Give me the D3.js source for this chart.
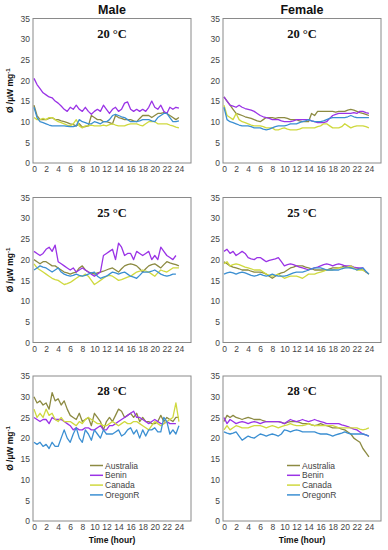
<!DOCTYPE html>
<html><head><meta charset="utf-8">
<script src="https://cdn.jsdelivr.net/npm/d3@7/dist/d3.min.js"></script>
<style>body{margin:0;background:#fff}svg{display:block}</style>
</head><body><svg id="c" width="388" height="550"></svg>
<script>
const hours = [0,0.5,1,1.5,2,2.5,3,3.5,4,4.5,5,5.5,6,6.5,7,7.5,8,8.5,9,9.5,10,10.5,11,11.5,12,12.5,13,13.5,14,14.5,15,15.5,16,16.5,17,17.5,18,18.5,19,19.5,20,20.5,21,21.5,22,22.5,23,23.5,24];
const populations = ["Australia","Benin","Canada","OregonR"];
const sexes = ["Male","Female"];
const temperatures = ["20 °C","25 °C","28 °C"];
const yTicks = [0,5,10,15,20,25,30,35];
const xTicks = [0,2,4,6,8,10,12,14,16,18,20,22,24];

// Male 20 °C
const m20_australia = [14,11.5,10.5,10.5,10.5,10.8,11,10.5,10.5,10.2,10,9.8,9.5,9.3,9,9.5,8.7,8.8,9,11.5,11,10.5,10.5,10,10,9.8,9.5,11.5,11,10.8,10.5,10.5,10.5,10.2,10,10.8,11.5,11.5,11.5,11,11.5,12,12,12.2,12,11.5,11,10.5,11];
const m20_benin = [20.5,19,18,17,16.5,16,15.8,15,14.5,13.8,13,12.5,13.5,13,14,13,12.5,13.5,12.5,11.8,12.5,13,12.5,14,13,12,13,13.5,12.5,13,14.5,14.8,13,12.5,13,12.5,13,12.5,13.5,15,13.5,13,14,12.5,12,13.5,13,13.5,13.3];
const m20_canada = [11,10.5,10.5,10.8,10.5,11,11,10.5,10,9.8,9.5,9.2,9,9.5,10.5,9,8.5,9,9,9.2,9,9,9,9.2,9,9.3,9.5,9.2,9,9,9,9.3,9.5,9.5,9.5,9.2,9,9.5,10,10,10,9.5,9.5,9.5,9.5,9.2,9,8.7,8.5];
const m20_oregonr = [13.5,11,10,9.8,9.5,9.2,9,9,9,9,9,8.9,8.8,8.8,9,10.5,10,9.8,9.5,9.5,10,9.8,9.5,10,10,10.5,11.5,11.8,11.5,11.2,11,10.5,10,10,10,10.2,10.5,10.5,10.5,10.2,10,11,11.5,12,12,11,10,10,10.2];
// Female 20 °C
const f20_australia = [16,15,14,13,12,11.8,11.5,11.2,11,10.8,10.5,10.2,10,10.5,11,11,11,10.8,11,11,11,10.8,10.5,10.5,10.5,10.2,10,10,10,12,11.5,12.5,12.5,12.5,12.5,12.5,12.5,12.3,12.5,12.5,12.5,12.8,13,12.8,12.5,12.2,12,11.8,11.5];
const f20_benin = [16,15,14,13.8,13.5,14,13.5,13.2,13,12.8,12.5,12,11.5,11.2,11,10.8,10.5,10.5,10.5,10.2,10,10,10,10.2,10.5,10.5,10.5,10.5,10.5,10.2,10,9.8,9.8,9.8,10,10.8,11.5,11.8,12,12,12,12,12,12.2,12,12.5,12.5,12.2,12];
const f20_canada = [14,11.5,11,10.5,12,10.5,10,9.8,9.5,9.2,9,9,9,8.8,8.5,8.5,8.5,8,8,8.3,8.5,8.2,8,8,8,8.2,8.5,8.5,8.5,8.5,8.5,8.8,9,9.5,9.5,9,8.5,8.5,8.5,8.8,9.5,9,8.5,8.8,9,9,9,8.8,8.5];
const f20_oregonr = [13.5,10.5,10,9.8,9.5,9.2,9,9,9,8.8,8.5,8.5,8.5,8.2,8,8.2,8.5,8.8,9,9,9,9.2,9.5,9.5,9.5,9.8,10,10.2,10.5,10.2,10,10,10,10.2,10.5,10.8,11,11,11,11,11,11.2,11.5,11.2,11,11,11,11,11];
// Male 25 °C
const m25_australia = [20,19.5,19,19.5,19.5,19,18.5,18.5,18,17.5,17,16.8,16.5,16.8,17,18,18.5,17.5,17,16.8,16.5,16.8,17,17.2,17.5,17.8,18,17.5,17,17.8,18.5,18.8,19,18.8,18.5,17.8,17,17.8,18.5,18.8,19,18.5,18,18.8,19.5,19.2,19,18.8,18.5];
const m25_benin = [22,21.5,21,21.5,22.5,23,22,23.5,19.5,19,18.5,18,17.5,18,17,17.5,18,17.5,17,16.5,16,16.5,17,21,21.5,22,22.5,20,24,23,21,21.5,21.5,20,22,21.5,21,21.5,22,20,21,20,23,22,21,20.5,20,21];
const m25_canada = [19,18,17.5,17,16.5,16,15.5,15.2,15,14.5,14,14.2,14.5,15,15.5,16,16,16.5,16,15,14,14.5,15,15.5,16,16.2,16,15.5,15,15.2,15.5,15.8,16,16.5,17,17.2,17.5,17.2,17,16.5,16,16.8,17.5,17.2,17,17.5,18,18,18];
const m25_oregonr = [17.5,18,18.5,18.2,18,17.5,17,17.5,18,17,16.5,16.2,16,16.2,16.5,16.2,16,16.2,16.5,16.8,17,16,15.5,15.8,16,16.5,17,16.8,16.5,16.8,17,16.5,16,15.8,15.5,16.2,17,17,17,17.2,17.5,17,16.5,16.2,16,16.2,16.5,16.5];
// Female 25 °C
const f25_australia = [19.5,19,18.5,18.2,18,17.8,17.5,17.5,17.5,17.2,17,17,17,16.8,16.5,16,15.5,16,16.5,16.8,17,17.5,18,18.2,18.5,18.5,18.5,18.2,18,17.8,17.5,17.5,17.5,17.5,17.5,17.8,18,18,18,18.2,18.5,18.2,18,18,18,17.8,17.5,17,16.5];
const f25_benin = [22,22.5,21.5,22,21,21.5,22,21.5,20.5,20.2,20,20.5,20.5,20,19.5,19.8,20,20.2,20.5,19.5,18.5,18.8,19,18.8,18.5,18.2,18,17.8,17.5,17.8,18,18.2,18.5,18.8,19,18.8,18.5,18.8,19,18.8,18.5,18.5,18.5,18.2,18,18,18,17];
const f25_canada = [19,19.5,18.5,18.8,19,18.8,18.5,18.2,18,17.8,17.5,17.5,17.5,17,16.5,16.2,16,16.2,16.5,16,15.5,15.8,16,16,16,15.8,15.5,16,16.5,16.5,16.5,16.8,17,17.2,17.5,17.5,17.5,17.8,18,18,18,18.2,18.5,18,17.5,17.5,17.5,17];
const f25_oregonr = [16.5,16.8,17,16.8,16.5,16.8,17,16.8,16.5,16.2,16,16.2,16.5,16.2,16,16.2,16.5,16.2,16,16,16,16.2,16.5,16.8,17,17,17,17.2,17.5,17.8,18,18,18,17.8,17.5,17.5,17.5,17.5,17.5,17.8,18,18,18,17.8,17.5,17.8,18,17.2,16.5];
// Male 28 °C
const m28_australia = [30,28.5,29,28,28.5,27,31,29,29.5,28,29,27,25.5,25,24.5,26,24,24.5,25,23,26,25,24,22,24,25,24,25.5,27,26.5,25,25.5,26,25,26,24,25,24,24,23.5,23.5,24,25.5,24,25,24.5,24,25,25];
const m28_benin = [25,24.5,24,24.5,24.5,23.5,25,24.5,24.5,24.5,24,23.5,23,22,22.5,22,22,22.5,22.5,22,22,22.5,23,22,22,23,23,23.5,24,24.5,25,25.5,26,26.5,25,25,24.5,24,23.5,24,24.5,24,23.5,23.5,24,23.5,23.5,23.5];
const m28_canada = [27,25,26,25,27,25.5,26,24.5,24,25,24,24,24,23.5,23,24,23.5,24.5,25,24.5,24,23.5,23.5,23,23,23.5,24,23.5,23,23.5,24,23.5,23.5,24,24,23.5,23,22.5,22,23,24,23.5,23,23.5,24,24.5,25,28.5,24];
const m28_oregonr = [19,18.5,19,18,18.5,17.5,19,18,18,20,22,20,19,21,22.5,20,19,22,21,19.5,22,21,20,22,21,21,21,21.5,22,20.5,21,22,22.5,21,22,20,22,20.5,22,22,22.5,21.5,21.5,25,24,21,22,21,23];
// Female 28 °C
const f28_australia = [24,25.5,25,25.5,25,24.8,24.5,24.8,25,24.8,24.5,24.5,24.5,24.2,24,24,24,24,24,23.8,23.5,23.8,24,24,24,23.8,23.5,23.5,23.5,23.2,23,23.2,23.5,23.2,23,22.8,22.5,22.5,22.5,22.2,22,21.5,21,20,19.5,19,17.5,16.5,15.5];
const f28_benin = [25,23.5,24.5,24,23.5,23.8,24,23.8,23.5,23.8,24,23.8,23.5,23.8,24,24,24,24,24,23.8,23.5,24,24.5,24.2,24,24.2,24.5,24.2,24,24.2,24.5,24.2,24,23.8,23.5,23.5,23.5,23.5,23.5,23.2,23,22.8,22.5,22.2,22,21.5,21,20.8,20.5];
const f28_canada = [22,23,22,22.5,23,22.8,22.5,22.5,22.5,22.8,23,23,23,22.8,22.5,22.8,23,22.8,22.5,22.8,23,23.2,23.5,23.2,23,23,23,23.2,23.5,23.2,23,23,23,23,23,23,23,22.8,22.5,22.5,22.5,22.5,22.5,22.5,22.5,22.2,22,22.2,22.5];
const f28_oregonr = [21.5,21.2,21,21.2,21.5,20.5,19.5,20,20.5,20.2,20,20.5,21,20.8,20.5,20.8,21,20.8,20.5,21,22,21.8,21.5,21.8,22,21.8,21.5,21.5,21.5,21.5,21.5,21.2,21,21,21,20.8,20.5,20.8,21,21.2,21.5,21.2,21,21,21,21,21,20.8,20.5];

const panelData = [
  [[m20_australia,m20_benin,m20_canada,m20_oregonr],[f20_australia,f20_benin,f20_canada,f20_oregonr]],
  [[m25_australia,m25_benin,m25_canada,m25_oregonr],[f25_australia,f25_benin,f25_canada,f25_oregonr]],
  [[m28_australia,m28_benin,m28_canada,m28_oregonr],[f28_australia,f28_benin,f28_canada,f28_oregonr]]
];

const colors = d3.scaleOrdinal().domain(populations).range(["#8c8a42","#9a33e6","#cfd93f","#3b8fd2"]);
const cols = [{left:33, right:191, x0:34}, {left:223, right:381, x0:224}];
const rows = [{top:18.5, bottom:163}, {top:197.5, bottom:342.5}, {top:376, bottom:521}];

const svg = d3.select("#c");
const font = "Arial, 'Liberation Sans', sans-serif";

sexes.forEach((s,ci)=>{
  svg.append("text").attr("x",(cols[ci].left+cols[ci].right)/2).attr("y",14)
    .attr("text-anchor","middle").attr("font-family",font).attr("font-weight","bold")
    .attr("font-size",12.5).attr("fill","#111").text(s);
});

rows.forEach((r,ri)=>{
  cols.forEach((c,ci)=>{
    const x = d3.scaleLinear().domain([0,26]).range([c.x0, c.right]);
    const y = d3.scaleLinear().domain([0,35]).range([r.bottom, r.top]);
    const g = svg.append("g");
    g.append("rect").attr("x",c.left).attr("y",r.top).attr("width",c.right-c.left)
      .attr("height",r.bottom-r.top).attr("fill","none").attr("stroke","#8a8a8a").attr("stroke-width",1);
    const ya = g.append("g").attr("transform",`translate(${c.left},0)`)
      .call(d3.axisLeft(y).tickValues(yTicks).tickSize(0).tickPadding(3));
    const xa = g.append("g").attr("transform",`translate(0,${r.bottom})`)
      .call(d3.axisBottom(x).tickValues(xTicks).tickSize(0).tickPadding(3));
    [ya,xa].forEach(a=>{a.select(".domain").remove();
      a.selectAll("text").attr("font-family",font).attr("font-size",8.5).attr("fill","#444");});

    const line = d3.line().x((d,i)=>x(hours[i])).y(d=>y(d));
    panelData[ri][ci].forEach((series,k)=>{
      g.append("path").datum(series).attr("d",line).attr("fill","none")
        .attr("stroke",colors(populations[k])).attr("stroke-width",1.3).attr("stroke-linejoin","round");
    });

    g.append("text").attr("x",(c.left+c.right)/2).attr("y",r.top+19)
      .attr("text-anchor","middle").attr("font-family","'Liberation Serif','Times New Roman',serif")
      .attr("font-weight","bold").attr("font-size",12.5).attr("fill","#111").text(temperatures[ri]);

    if(ci===0){
      const cy=(r.top+r.bottom)/2;
      const t = svg.append("text").attr("transform",`translate(13,${cy}) rotate(-90)`)
        .attr("text-anchor","middle").attr("font-family",font).attr("font-weight","bold")
        .attr("font-size",8.5).attr("fill","#111");
      t.append("tspan").text("Ø /µW mg");
      t.append("tspan").attr("dy",-3).attr("font-size",6).text("-1");
    }
    if(ri===2){
      svg.append("text").attr("x",(c.left+c.right)/2).attr("y",543)
        .attr("text-anchor","middle").attr("font-family",font).attr("font-weight","bold")
        .attr("font-size",8.5).attr("fill","#111").text("Time (hour)");
      const lx = ci===0 ? 90 : 287;
      const lg = svg.append("g");
      populations.forEach((p,k)=>{
        const ly = 465.5 + k*9.8;
        lg.append("line").attr("x1",lx).attr("x2",lx+13).attr("y1",ly).attr("y2",ly)
          .attr("stroke",colors(p)).attr("stroke-width",1.5);
        lg.append("text").attr("x",lx+15).attr("y",ly+3).attr("font-family",font)
          .attr("font-size",8.5).attr("fill","#444").text(p);
      });
    }
  });
});
</script></body></html>
